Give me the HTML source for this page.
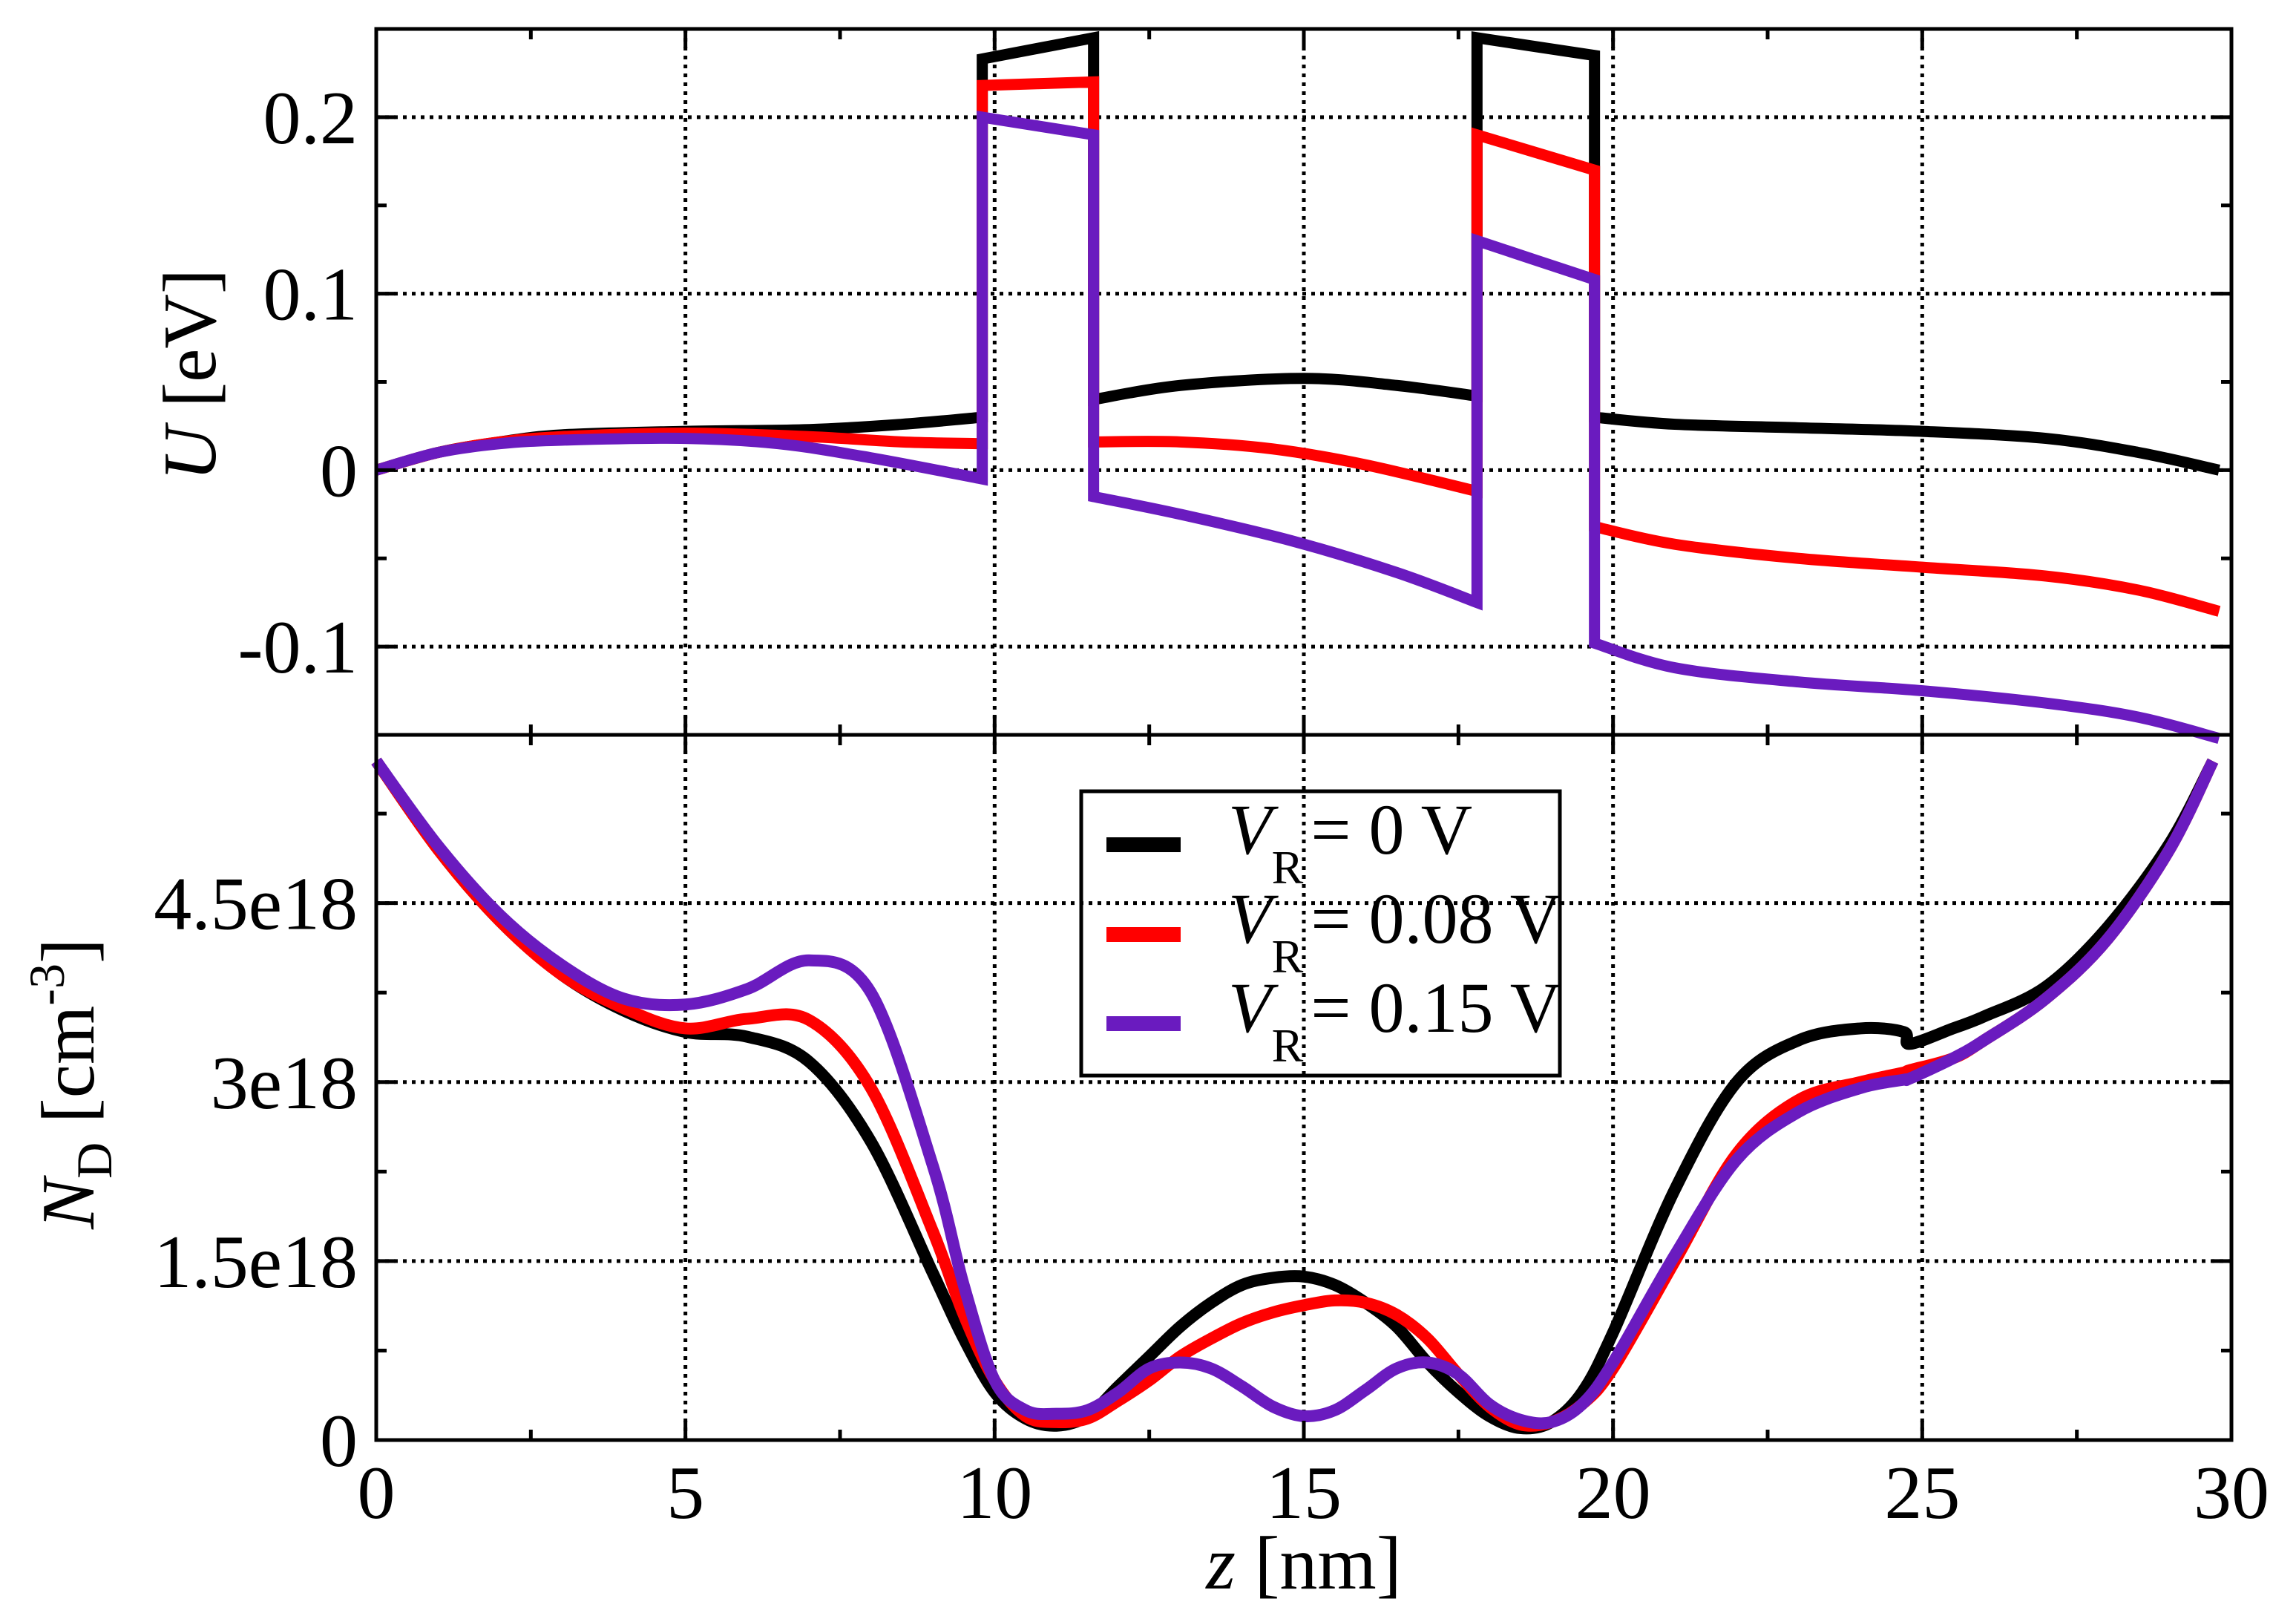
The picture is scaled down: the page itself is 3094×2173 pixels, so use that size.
<!DOCTYPE html>
<html><head><meta charset="utf-8"><style>
body{margin:0;background:#fff}
svg{display:block}
text{font-family:"Liberation Serif",serif;fill:#000}
</style></head><body>
<svg id="chart" width="3094" height="2173" viewBox="0 0 3094 2173" xmlns="http://www.w3.org/2000/svg">
<g id="grid"></g>
<g id="series"></g>
<g id="axes"></g>
<text transform="translate(290,505) rotate(-90)" text-anchor="middle" font-size="102"><tspan font-style="italic">U</tspan> [eV]</text>
<text transform="translate(126,1460) rotate(-90)" text-anchor="middle" font-size="102"><tspan font-style="italic">N</tspan><tspan font-size="68" dy="24">D</tspan><tspan dy="-24">  [cm</tspan><tspan font-size="68" dy="-40">-3</tspan><tspan dy="40">]</tspan></text>
<text x="1757" y="2140" text-anchor="middle" font-size="102"><tspan font-style="italic">z</tspan> [nm]</text>
<g>
<rect x="1457" y="1066" width="645" height="383" fill="none" stroke="#000" stroke-width="5"/>
<g><rect x="1491" y="1128" width="100" height="20" fill="#000"/><text x="1655" y="1150" font-size="96"><tspan font-style="italic">V</tspan><tspan font-size="64" dy="40">R</tspan><tspan dy="-40" dx="10">= 0 V</tspan></text></g>
<g><rect x="1491" y="1249" width="100" height="20" fill="#f00"/><text x="1655" y="1270" font-size="96"><tspan font-style="italic">V</tspan><tspan font-size="64" dy="40">R</tspan><tspan dy="-40" dx="10">= 0.08 V</tspan></text></g>
<g><rect x="1491" y="1369" width="100" height="20" fill="#6a1bbf"/><text x="1655" y="1390" font-size="96"><tspan font-style="italic">V</tspan><tspan font-size="64" dy="40">R</tspan><tspan dy="-40" dx="10">= 0.15 V</tspan></text></g>
</g>
</svg>
<script>
const zTicks=[0,5,10,15,20,25,30];
const uTicks=[-0.1,0,0.1,0.2];
const uTickLabels=["-0.1","0","0.1","0.2"];
const nTicks=[0,1.5,3,4.5];
const nTickLabels=["0","1.5e18","3e18","4.5e18"];
// top panel: U(z) segments [z,U]
const uBlack=[[[0,0],[1,0.01],[2,0.016],[3,0.02],[5,0.022],[7,0.023],[8.5,0.026],[9.8,0.03]],[[9.8,0.233],[11.6,0.245]],[[11.6,0.04],[13,0.048],[15,0.052],[16.5,0.048],[17.8,0.042]],[[17.8,0.245],[19.7,0.235]],[[19.7,0.03],[21,0.026],[23,0.024],[25,0.022],[27,0.018],[28.5,0.01],[29.8,0]]];
const uRed=[[[0,0],[1,0.01],[2,0.016],[3,0.019],[5,0.021],[7,0.019],[8.5,0.016],[9.8,0.015]],[[9.8,0.218],[11.6,0.22]],[[11.6,0.016],[13,0.016],[14.5,0.012],[16,0.003],[17.8,-0.012]],[[17.8,0.19],[19.7,0.17]],[[19.7,-0.032],[21,-0.042],[23,-0.05],[25,-0.055],[27,-0.06],[28.5,-0.068],[29.8,-0.08]]];
const uPurple=[[[0,0],[1,0.01],[2,0.015],[3,0.017],[5,0.018],[6.5,0.015],[8,0.007],[9.8,-0.005]],[[9.8,0.2],[11.6,0.19]],[[11.6,-0.015],[13,-0.025],[14.8,-0.04],[16.5,-0.058],[17.8,-0.075]],[[17.8,0.13],[19.7,0.108]],[[19.7,-0.098],[21,-0.112],[23,-0.12],[25,-0.125],[27,-0.132],[28.5,-0.14],[29.8,-0.152]]];
// bottom panel: N_D(z) in units of 1e18
const zN=[0,1,2,3,4,5,6,7,8,9,9.5,10,10.5,11,11.5,12,12.5,13,13.5,14,14.5,15,15.5,16,16.5,17,17.5,18,18.5,19,19.5,20,21,22,23,24,24.7,24.8,25.5,26,27,28,29,29.7];
const nBlack=[5.69,4.95,4.35,3.9,3.6,3.42,3.38,3.17,2.5,1.4,0.85,0.4,0.18,0.12,0.2,0.45,0.7,0.95,1.15,1.3,1.36,1.37,1.3,1.15,0.95,0.65,0.4,0.2,0.1,0.15,0.4,0.9,2.1,3.0,3.35,3.45,3.42,3.32,3.45,3.55,3.8,4.3,5.0,5.69];
const nRed=[5.69,4.95,4.35,3.9,3.62,3.45,3.53,3.52,2.95,1.75,1.05,0.5,0.2,0.15,0.18,0.33,0.5,0.7,0.85,0.98,1.07,1.13,1.17,1.15,1.05,0.85,0.55,0.28,0.13,0.15,0.3,0.6,1.5,2.4,2.85,3.0,3.08,3.1,3.2,3.35,3.7,4.2,4.95,5.69];
const nPurple=[5.69,4.98,4.4,3.98,3.7,3.65,3.78,4.02,3.75,2.3,1.3,0.5,0.25,0.22,0.25,0.4,0.6,0.65,0.6,0.45,0.28,0.2,0.25,0.42,0.6,0.65,0.55,0.3,0.17,0.15,0.3,0.65,1.55,2.35,2.75,2.95,3.02,3.03,3.2,3.35,3.7,4.2,4.95,5.69];

const X0=507,X1=3007,TY0=39,TY1=990,BY0=990,BY1=1940;
const sx=z=>X0+(z/30)*(X1-X0);
const syU=u=>TY1-(u+0.15)/0.40*(TY1-TY0);
const syN=n=>BY1-(n/5.91)*(BY1-BY0);
const NS="http://www.w3.org/2000/svg";
function mk(tag,parent){const e=document.createElementNS(NS,tag);parent.appendChild(e);return e;}
const grid=document.getElementById('grid'),series=document.getElementById('series'),axes=document.getElementById('axes');
function line(p,x1,y1,x2,y2,w,dash){const l=mk('line',p);l.setAttribute('x1',x1);l.setAttribute('y1',y1);l.setAttribute('x2',x2);l.setAttribute('y2',y2);l.setAttribute('stroke','#000');l.setAttribute('stroke-width',w);if(dash)l.setAttribute('stroke-dasharray',dash);return l;}
// grid
zTicks.slice(1,-1).forEach(z=>{const g=line(grid,sx(z),TY0,sx(z),BY1,5,'5 7');

});
uTicks.forEach(u=>{const g=line(grid,X0,syU(u),X1,syU(u),5,'5 7');

});
nTicks.slice(1).forEach(n=>{const g=line(grid,X0,syN(n),X1,syN(n),5,'5 7');

});
// series
function smoothPath(pts){let d=`M${pts[0][0]},${pts[0][1]}`;for(let i=0;i<pts.length-1;i++){const p0=pts[Math.max(0,i-1)],p1=pts[i],p2=pts[i+1],p3=pts[Math.min(pts.length-1,i+2)];d+=` C${p1[0]+(p2[0]-p0[0])/6},${p1[1]+(p2[1]-p0[1])/6} ${p2[0]-(p3[0]-p1[0])/6},${p2[1]-(p3[1]-p1[1])/6} ${p2[0]},${p2[1]}`;}return d;}
function drawU(segs,color,name){let d='';
segs.forEach((s,i)=>{const px=s.map(p=>[sx(p[0]),syU(p[1])]);let sd=smoothPath(px);if(i>0)sd='L'+sd.slice(1);d+=sd;});
const p=mk('path',series);p.setAttribute('d',d);p.setAttribute('fill','none');p.setAttribute('stroke',color);p.setAttribute('stroke-width',15);p.setAttribute('stroke-linejoin','miter');

}
function drawN(vals,color,name){const px=zN.map((z,i)=>[sx(z),syN(vals[i])]);const p=mk('path',series);p.setAttribute('d',smoothPath(px));p.setAttribute('fill','none');p.setAttribute('stroke',color);p.setAttribute('stroke-width',16);

}
drawU(uBlack,'#000','potential-0v');drawU(uRed,'#f00','potential-008v');drawU(uPurple,'#6a1bbf','potential-015v');
drawN(nBlack,'#000','density-0v');drawN(nRed,'#f00','density-008v');drawN(nPurple,'#6a1bbf','density-015v');
// frames
[[TY0,TY1],[BY0,BY1]].forEach(([a,b])=>{const r=mk('rect',axes);r.setAttribute('x',X0);r.setAttribute('y',a);r.setAttribute('width',X1-X0);r.setAttribute('height',b-a);r.setAttribute('fill','none');r.setAttribute('stroke','#000');r.setAttribute('stroke-width',5);});
for(let z=0;z<=30;z+=2.5){const maj=z%5===0,L=maj?26:14;[TY0,BY0].forEach(y=>line(axes,sx(z),y,sx(z),y+L,5));[TY1,BY1].forEach(y=>line(axes,sx(z),y,sx(z),y-L,5));}
for(let u=-0.15;u<=0.2501;u+=0.05){const maj=Math.abs(Math.round(u*100)%10)<1e-6,L=maj?26:14;line(axes,X0,syU(u),X0+L,syU(u),5);line(axes,X1,syU(u),X1-L,syU(u),5);}
for(let n=0.75;n<5.91;n+=0.75){const maj=Math.abs((n/1.5)-Math.round(n/1.5))<1e-6,L=maj?26:14;line(axes,X0,syN(n),X0+L,syN(n),5);line(axes,X1,syN(n),X1-L,syN(n),5);}
// labels
zTicks.forEach(z=>{const t=mk('text',axes);t.setAttribute('x',sx(z));t.setAttribute('y',2045);t.setAttribute('text-anchor','middle');t.setAttribute('font-size',102);t.textContent=z;

});
uTicks.forEach((u,i)=>{const t=mk('text',axes);t.setAttribute('x',482);t.setAttribute('y',syU(u)+35);t.setAttribute('text-anchor','end');t.setAttribute('font-size',102);t.textContent=uTickLabels[i];

});
nTicks.forEach((n,i)=>{const t=mk('text',axes);t.setAttribute('x',482);t.setAttribute('y',syN(n)+35);t.setAttribute('text-anchor','end');t.setAttribute('font-size',102);t.textContent=nTickLabels[i];

});
</script>
</body></html>
